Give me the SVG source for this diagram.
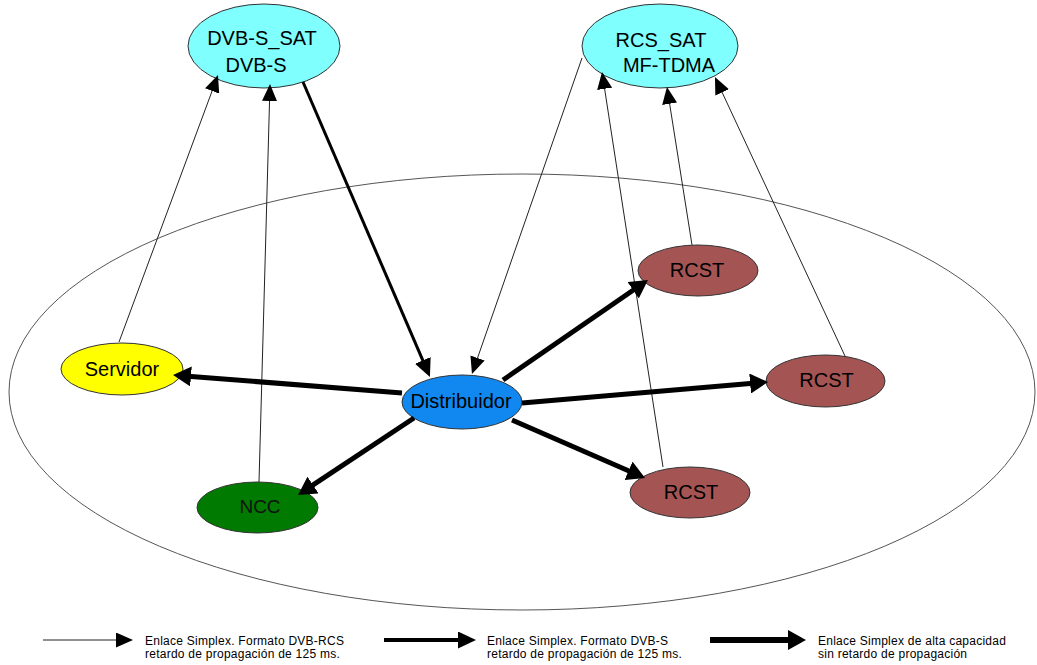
<svg xmlns="http://www.w3.org/2000/svg" width="1037" height="665" viewBox="0 0 1037 665">
  <style>
    .node { stroke: #333; stroke-width: 1; }
    .sat { fill: #80FFFF; }
    .rcst { fill: #A55454; }
    .label { font-family: "Liberation Sans", Arial, sans-serif; font-size: 20px; fill: #000; text-anchor: middle; }
    .thin { stroke: #222; stroke-width: 1; fill: none; marker-end: url(#ahThin); }
    .med { stroke: #000; stroke-width: 3; fill: none; marker-end: url(#ahMed); }
    .thick { stroke: #000; stroke-width: 5; fill: none; marker-end: url(#ahThick); }
    .legend { font-family: "Liberation Sans", Arial, sans-serif; font-size: 12px; fill: #000; letter-spacing: 0.25px; }
  </style>
  <defs>
    <marker id="ahThin" markerUnits="userSpaceOnUse" markerWidth="17" markerHeight="15" refX="2" refY="7.5" orient="auto">
      <path d="M0,0 L17,7.5 L0,15 z" fill="#000"/>
    </marker>
    <marker id="ahMed" markerUnits="userSpaceOnUse" markerWidth="18" markerHeight="17" refX="3" refY="8.5" orient="auto">
      <path d="M0,0 L18,8.5 L0,17 z" fill="#000"/>
    </marker>
    <marker id="ahThick" markerUnits="userSpaceOnUse" markerWidth="18" markerHeight="20" refX="3" refY="10" orient="auto">
      <path d="M0,0 L18,10 L0,20 z" fill="#000"/>
    </marker>
  </defs>

  <rect width="1037" height="665" fill="#fff"/>

  <!-- ground network boundary -->
  <ellipse id="network" cx="522" cy="392" rx="513" ry="218" fill="none" stroke="#555" stroke-width="1"/>

  <!-- nodes -->
  <g id="dvbs-sat">
    <ellipse class="node sat" cx="264" cy="46" rx="76" ry="42"/>
    <text class="label" x="262" y="45">DVB-S_SAT</text>
    <text class="label" x="256" y="72">DVB-S</text>
  </g>
  <g id="rcs-sat">
    <ellipse class="node sat" cx="660" cy="46" rx="78" ry="42"/>
    <text class="label" x="661" y="47">RCS_SAT</text>
    <text class="label" x="669" y="72">MF-TDMA</text>
  </g>
  <g id="servidor">
    <ellipse class="node" cx="122" cy="369" rx="61" ry="26" fill="#FFFF00"/>
    <text class="label" x="122" y="376">Servidor</text>
  </g>
  <g id="distribuidor">
    <ellipse class="node" cx="462" cy="402" rx="60" ry="27" fill="#1188F0"/>
    <text class="label" x="461" y="408">Distribuidor</text>
  </g>
  <g id="ncc">
    <ellipse class="node" cx="257.5" cy="507.5" rx="60.5" ry="25.5" fill="#007A00"/>
    <text class="label" x="260" y="513" style="font-size:19px;fill:#111">NCC</text>
  </g>
  <g id="rcst-1">
    <ellipse class="node rcst" cx="698" cy="270.5" rx="60" ry="25.5"/>
    <text class="label" x="697" y="277">RCST</text>
  </g>
  <g id="rcst-2">
    <ellipse class="node rcst" cx="825.5" cy="381" rx="59.5" ry="26"/>
    <text class="label" x="826.5" y="387">RCST</text>
  </g>
  <g id="rcst-3">
    <ellipse class="node rcst" cx="690" cy="492.5" rx="60" ry="25.5"/>
    <text class="label" x="691" y="499">RCST</text>
  </g>

  <!-- links -->
  <g id="connectors">
    <!-- DVB-RCS uplinks / downlinks -->
    <line class="thin" x1="119" y1="342" x2="212.8" y2="89.1"/>
    <line class="thin" x1="259" y1="482" x2="269.6" y2="99"/>
    <line class="thin" x1="582" y1="58" x2="476.9" y2="359.8"/>
    <line class="thin" x1="663" y1="467" x2="604.3" y2="86.8"/>
    <line class="thin" x1="692" y1="245" x2="669.3" y2="101.8"/>
    <line class="thin" x1="845" y1="356" x2="721.3" y2="90.6"/>
    <!-- DVB-S broadcast -->
    <line class="med" x1="303" y1="82" x2="424" y2="363.2"/>
    <!-- local high-capacity links -->
    <line class="thick" x1="402" y1="393" x2="188" y2="376.2"/>
    <line class="thick" x1="414" y1="418" x2="310.5" y2="486.7"/>
    <line class="thick" x1="503" y1="380" x2="635.6" y2="288.5"/>
    <line class="thick" x1="522" y1="403" x2="753.1" y2="383.3"/>
    <line class="thick" x1="512" y1="420" x2="631.3" y2="472"/>
  </g>

  <!-- key -->
  <g id="legend">
    <line class="thin" x1="43" y1="640" x2="118" y2="640"/>
    <text class="legend" x="145" y="645">Enlace Simplex. Formato DVB-RCS</text>
    <text class="legend" x="145" y="658">retardo de propagación de 125 ms.</text>
    <line class="med" x1="384" y1="640" x2="461" y2="640" style="stroke-width:4"/>
    <text class="legend" x="487" y="645">Enlace Simplex. Formato DVB-S</text>
    <text class="legend" x="487" y="658">retardo de propagación de 125 ms.</text>
    <line class="thick" x1="710" y1="640" x2="791" y2="640" style="stroke-width:6"/>
    <text class="legend" x="818" y="645">Enlace Simplex de alta capacidad</text>
    <text class="legend" x="818" y="658">sin retardo de propagación</text>
  </g>
</svg>
